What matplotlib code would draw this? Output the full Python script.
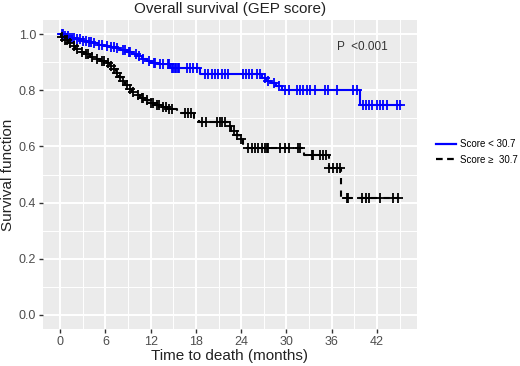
import numpy as np
import matplotlib.pyplot as plt
from matplotlib.lines import Line2D
from matplotlib.ticker import MultipleLocator

plt.rcParams['font.family'] = ['Liberation Sans', 'DejaVu Sans']

# Score < 30.7 : event times and survival after each step
low_times = [0.5, 1.2, 2.0, 2.8, 3.5, 4.3, 5.0, 5.8, 6.5, 7.3, 8.0, 8.8, 9.5, 10.2,
             10.8, 11.5, 12.2, 13.0, 14.6, 18.6, 26.8, 27.3, 27.9, 28.6, 29.4, 39.8]
low_surv = [0.993, 0.988, 0.982, 0.976, 0.971, 0.967, 0.963, 0.959, 0.955, 0.95, 0.944,
            0.937, 0.93, 0.921, 0.913, 0.905, 0.897, 0.893, 0.88, 0.858, 0.845, 0.835,
            0.825, 0.815, 0.80, 0.748]
low_censor = [0.2, 0.4, 0.7, 1.0, 1.3, 1.6, 1.9, 2.3, 2.6, 3.0, 3.4, 3.8, 4.1, 4.5, 5.2,
              5.6, 6.2, 6.8, 7.1, 7.6, 8.3, 8.6, 9.1, 9.3, 10.0, 10.4, 11.0, 11.8, 12.4,
              12.6, 13.2, 13.6, 14.3, 14.5, 14.8, 14.9, 15.2, 15.4, 15.6, 15.8, 16.8,
              17.2, 17.6, 18.2, 19.2, 19.6, 20.1, 20.5, 20.9, 21.4, 21.8, 22.2, 24.2,
              24.7, 25.1, 25.5, 26.1, 26.5, 27.1, 27.6, 28.3, 29.0, 29.8, 30.4, 31.4,
              31.8, 32.2, 32.7, 33.1, 33.8, 35.1, 35.5, 36.7, 38.8, 39.3, 40.1, 40.6,
              41.0, 41.4, 42.0, 42.4, 42.8, 43.3, 44.6, 45.0]

# Score >= 30.7
high_times = [0.1, 0.5, 1.0, 1.5, 2.0, 2.6, 3.2, 3.9, 4.6, 5.3, 6.0, 6.6, 7.0, 7.4, 7.8,
              8.2, 8.6, 9.0, 9.5, 10.0, 10.6, 11.2, 11.8, 12.5, 13.3, 14.2, 15.5, 17.8,
              18.4, 22.2, 22.7, 23.2, 23.7, 24.2, 24.6, 32.3, 35.6, 37.3]
high_surv = [0.99, 0.98, 0.97, 0.958, 0.948, 0.938, 0.93, 0.92, 0.912, 0.905, 0.897,
             0.888, 0.875, 0.862, 0.848, 0.834, 0.82, 0.806, 0.793, 0.782, 0.772, 0.764,
             0.756, 0.748, 0.74, 0.732, 0.72, 0.703, 0.688, 0.672, 0.656, 0.64, 0.625,
             0.61, 0.595, 0.57, 0.525, 0.418]
high_censor = [0.3, 0.6, 0.9, 1.3, 1.8, 2.2, 2.9, 3.4, 3.7, 4.2, 4.9, 5.5, 5.8, 6.3, 6.8,
               7.2, 7.6, 8.0, 8.4, 8.8, 9.2, 9.7, 10.3, 10.8, 11.0, 11.5, 12.0, 12.3,
               12.8, 13.1, 13.6, 14.0, 14.4, 14.8, 16.6, 17.0, 17.4, 18.8, 19.3, 20.8,
               21.2, 21.5, 21.8, 22.5, 23.0, 23.5, 24.0, 24.9, 25.4, 25.8, 26.2, 26.7,
               27.1, 27.4, 27.6, 29.1, 29.8, 30.4, 31.5, 31.8, 33.4, 33.5, 34.4, 34.8,
               35.3, 35.7, 36.2, 36.7, 37.1, 38.0, 38.2, 40.0, 40.6, 41.0, 42.4, 44.1,
               44.8]

labels = ['Score < 30.7', 'Score \u2265  30.7']
colors = ['#0000FF', 'black']

fig = plt.figure(figsize=(5.2, 3.66), dpi=100)
ax = fig.add_axes([0.083, 0.101, 0.718, 0.844])
ax.set_facecolor('#EBEBEB')
for s in ax.spines.values():
    s.set_visible(False)

ax.xaxis.set_major_locator(MultipleLocator(6))
ax.xaxis.set_minor_locator(MultipleLocator(3))
ax.yaxis.set_major_locator(MultipleLocator(0.2))
ax.yaxis.set_minor_locator(MultipleLocator(0.1))
ax.grid(which='major', color='white', lw=1.4)
ax.grid(which='minor', color='white', lw=0.7)
ax.set_axisbelow(True)


def surv_at(times, surv, t):
    t_all = np.r_[0.0, times]
    s_all = np.r_[1.0, surv]
    idx = np.searchsorted(t_all, t, side='right') - 1
    return s_all[idx]


groups = [(low_times, low_surv, low_censor, '-'),
          (high_times, high_surv, high_censor, '--')]
for (tm, sv, cens, ls), c in zip(groups, colors):
    tmax = max(cens)
    xs = np.r_[0.0, tm, tmax]
    ys = np.r_[1.0, sv, sv[-1]]
    line, = ax.step(xs, ys, where='post', color=c, lw=1.5, ls=ls)
    if ls == '--':
        line.set_dashes([3, 3])
    cens = np.array(cens)
    ax.plot(cens, surv_at(tm, sv, cens), ls='none', marker='+', ms=7.5, mew=1.3, color=c)

ax.set_xlim(-2.25, 47.25)
ax.set_ylim(-0.05, 1.05)
ax.tick_params(which='major', length=3, width=1, color='#333333', labelcolor='#4D4D4D',
               labelsize=9, pad=2)
ax.tick_params(which='minor', length=0)
ax.set_yticklabels(['%.1f' % v for v in ax.get_yticks()])

ax.set_title('Overall survival (GEP score)', fontsize=11, pad=5, color='#222222')
ax.set_xlabel('Time to death (months)', fontsize=11, labelpad=1, color='#222222')
ax.set_ylabel('Survival function', fontsize=11, labelpad=3, color='#222222')
ax.text(43.5, 0.955, 'P  <0.001', ha='right', va='center', fontsize=8.5, color='#333333')

handles = [Line2D([], [], color=colors[0], lw=1.6),
           Line2D([], [], color=colors[1], lw=1.6, dashes=[3, 2])]
fig.legend(handles, labels, loc='center left', bbox_to_anchor=(0.822, 0.585),
           frameon=False, fontsize=7, handlelength=2.0, handletextpad=0.5,
           labelspacing=0.6)

fig.savefig('out.png', dpi=100)
